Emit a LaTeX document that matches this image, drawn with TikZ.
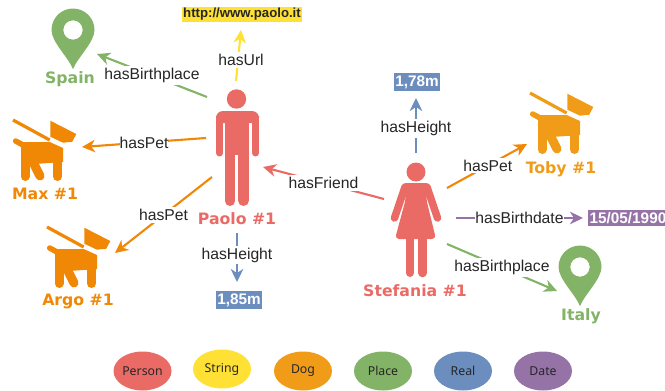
\documentclass[tikz,border=0pt]{standalone}
\usepackage{fontspec}
\usetikzlibrary{arrows.meta,shapes.geometric}
\newfontfamily\iconfont{DejaVu Sans}
\newfontfamily\linkfont{Liberation Sans}
\newfontfamily\keyfont{Noto Sans}
\definecolor{personc}{HTML}{EA6B66}
\definecolor{stringc}{HTML}{FFE135}
\definecolor{dogc}{HTML}{F08705}
\definecolor{dogl}{HTML}{F19C19}
\definecolor{placec}{HTML}{82B366}
\definecolor{realc}{HTML}{6C8EBF}
\definecolor{datec}{HTML}{9673A6}
\tikzset{
    iconspot/.style={
    inner sep=0pt,minimum size=0pt
    },
    iconname/.style={
    inner sep=0pt,font=\iconfont\bfseries\fontsize{15.7}{17}\selectfont
    },
    literal/.style={
    rectangle,inner xsep=1.5pt,inner ysep=2pt,text=white,font=\linkfont\bfseries\fontsize{15.3}{17}\selectfont
    },
    link/.style={
    line width=2.1pt,-{Stealth[length=13pt,width=12.5pt,inset=4pt]}
    },
    linkname/.style={
    fill=white,inner xsep=0pt,inner ysep=2pt,text=black!85,font=\linkfont\fontsize{15.7}{18}\selectfont
    },
    keyitem/.style={
    ellipse,minimum width=58pt,minimum height=39pt,inner sep=0pt,text=black!85,font=\keyfont\fontsize{12.3}{14}\selectfont
    },
    manicon/.pic={
      \fill (-0.5,-56) circle (9.7);
      \fill[rounded corners=7pt] (-21,-32) -- (-21,-44) -- (22,-44) -- (22,-32) -- cycle;
      \fill (-12,-40) rectangle (12,0);
      \draw[line width=7pt,line cap=round] (-17.5,-36) -- (-17.5,-2);
      \draw[line width=7pt,line cap=round] (18.5,-36) -- (18.5,-2);
      \draw[line width=10pt,line cap=round] (-7,-2) -- (-7,46);
      \draw[line width=11pt,line cap=round] (6.5,-2) -- (6.5,45.5);
    },
    womanicon/.pic={
      \fill (0,-53) circle (9.5);
      \fill[rounded corners=4pt] (-14,-42) -- (14,-42) -- (10,-27) -- (20,14) -- (-21,14) -- (-10,-27) -- cycle;
      \draw[line width=7.5pt,line cap=round] (-11,-38) -- (-21.5,-7);
      \draw[line width=7.5pt,line cap=round] (11,-38) -- (21.5,-7);
      \draw[line width=8pt,line cap=round] (-6,14) -- (-6,48);
      \draw[line width=8.5pt,line cap=round] (6.5,14) -- (6.5,48);
    },
    dogicon/.pic={
      \draw[line width=3.2pt] (0,0) -- (36.7,20);
      \fill (37.3,0.7) -- (63.3,14) -- (59.3,21.7) -- (50,22.7) -- (37.3,16.7) -- cycle;
      \draw[line width=5.5pt,line cap=round] (2.7,21) -- (10,25);
      \fill (8,22) -- (36.7,22) -- (50,28) -- (50,42) -- (8,45) -- cycle;
      \draw[line width=9pt,line cap=round] (12,30) -- (12,56.5);
      \draw[line width=9pt,line cap=round] (44.5,35) -- (44.5,56.5);
      \draw[line width=9pt,line cap=round] (18,38) -- (27,56);
    },
    pinicon/.pic={
      \fill[even odd rule] (0,39) .. controls (-5,27) and (-21.5,12) .. (-21.5,0)
        arc (180:360:21.5) .. controls (21.5,12) and (5,27) .. (0,39) -- cycle
        (0,0) circle (9.7);
    },
}
\begin{document}
\begin{tikzpicture}[x=1pt,y=-1pt]
  \useasboundingbox (0,0) rectangle (665,391);

  \node[iconspot] (paolo) at (237,155) {};
  \node[iconspot] (stefania) at (416,225) {};
  \node[iconspot] (max) at (13,120) {};
  \node[iconspot] (argo) at (47,227) {};
  \node[iconspot] (toby) at (530,93) {};
  \node[iconspot] (spain) at (73,30) {};
  \node[iconspot] (italy) at (580,267) {};

  \pic[personc] at (paolo) {manicon};
  \pic[personc] at (stefania) {womanicon};
  \pic[dogc] at (max) {dogicon};
  \pic[dogc] at (argo) {dogicon};
  \pic[dogl] at (toby) {dogicon};
  \pic[placec] at (spain) {pinicon};
  \pic[placec] at (italy) {pinicon};

  \node[iconname,text=personc] (paololabel) at (237,219) {Paolo \#1};
  \node[iconname,text=personc] (stefanialabel) at (415,291) {Stefania \#1};
  \node[iconname,text=dogc] (maxlabel) at (45,194) {Max \#1};
  \node[iconname,text=dogc] (argolabel) at (78,301) {Argo \#1};
  \node[iconname,text=dogl] (tobylabel) at (561,169) {Toby \#1};
  \node[iconname,text=placec] (spainlabel) at (70,79) {Spain};
  \node[iconname,text=placec] (italylabel) at (581,316) {Italy};

  \node[literal,fill=stringc,text=black!85,inner ysep=1.5pt,font=\linkfont\bfseries\fontsize{13.2}{15}\selectfont] (url) at (242,14.5) {http://www.paolo.it};
  \node[literal,fill=realc] (height1) at (239,300) {1,85m};
  \node[literal,fill=realc] (height2) at (417,82) {1,78m};
  \node[literal,fill=datec,anchor=west] (birthdate) at (588,218) {15/05/1990};

  \draw[link,placec] ([shift={(-30,-58)}]paolo.center) -- node[linkname] (pb1) {hasBirthplace} ([shift={(24,24)}]spain.center);
  \draw[link,stringc] ([shift={(-1,-74)}]paolo.center) -- node[linkname,pos=0.41,xshift=3pt] (pu1) {hasUrl} ([shift={(-1,15.5)}]url.center);
  \draw[link,dogc] ([shift={(-31,-17)}]paolo.center) -- node[linkname] (pp1) {hasPet} ([shift={(69,27)}]max.center);
  \draw[link,dogc] ([shift={(-25,22)}]paolo.center) -- node[linkname] (pp2) {hasPet} ([shift={(68,26)}]argo.center);
  \draw[link,realc] ([shift={(0,78)}]paolo.center) -- node[linkname,pos=0.45] (ph1) {hasHeight} ([shift={(-2,-18)}]height1.center);
  \draw[link,personc] ([shift={(-32,-26)}]stefania.center) -- node[linkname] (sf1) {hasFriend} ([shift={(26,12)}]paolo.center);
  \draw[link,realc] ([shift={(0,-72)}]stefania.center) -- node[linkname,pos=0.45] (sh1) {hasHeight} ([shift={(-1,16)}]height2.center);
  \draw[link,dogc] ([shift={(31,-37)}]stefania.center) -- node[linkname,pos=0.51] (sp1) {hasPet} ([shift={(-3,51)}]toby.center);
  \draw[link,datec] ([shift={(40,-7)}]stefania.center) -- node[linkname,pos=0.5] (sd1) {hasBirthdate} ([shift={(-5,0)}]birthdate.west);
  \draw[link,placec] ([shift={(31,19)}]stefania.center) -- node[linkname] (sb1) {hasBirthplace} ([shift={(-23,24)}]italy.center);

  \node[keyitem,fill=personc] (keyperson) at (142.5,371) {Person};
  \node[keyitem,fill=stringc] (keystring) at (222,369) {String};
  \node[keyitem,fill=dogl] (keydog) at (303,371) {Dog};
  \node[keyitem,fill=placec] (keyplace) at (383,371) {Place};
  \node[keyitem,fill=realc] (keyreal) at (463,371) {Real};
  \node[keyitem,fill=datec] (keydate) at (543,371) {Date};
\end{tikzpicture}
\end{document}
